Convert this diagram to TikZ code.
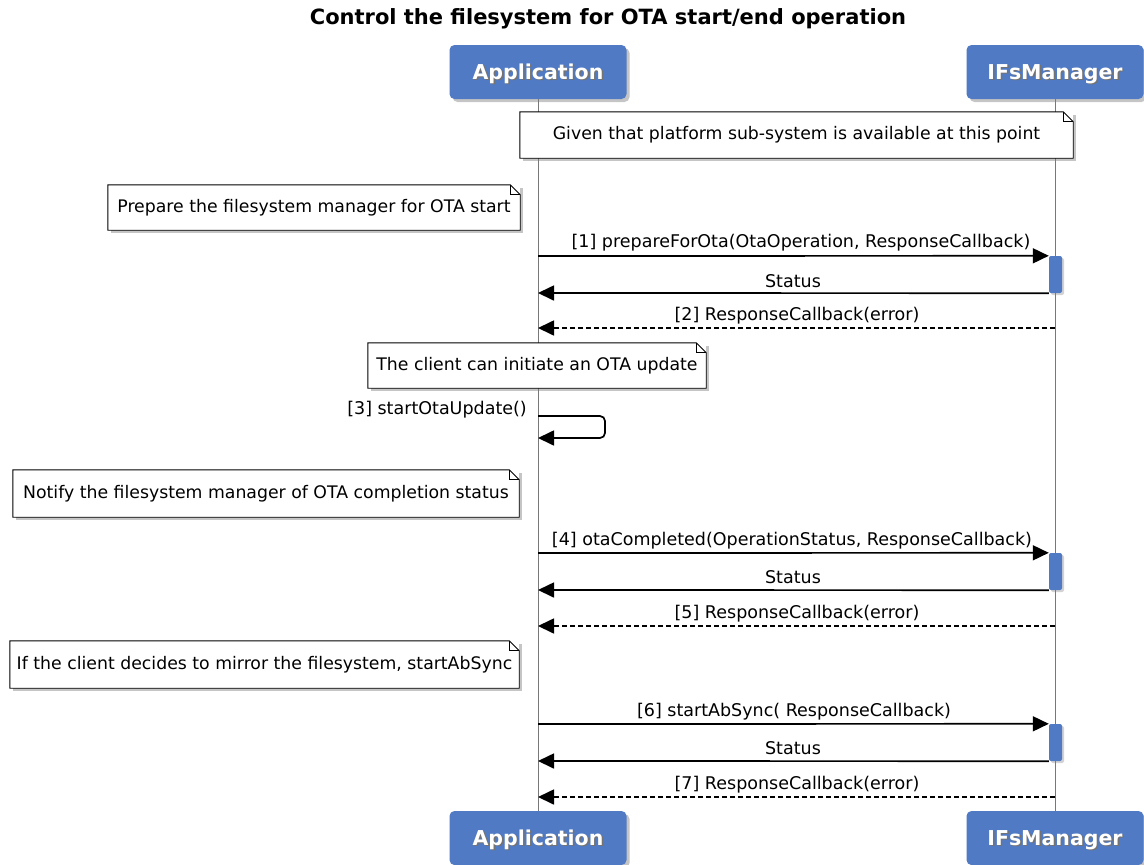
\documentclass[tikz,border=0pt]{standalone}
\usepackage{fontspec}
\setmainfont{DejaVu Sans}
\usetikzlibrary{arrows.meta,shadows}
\definecolor{hdrblue}{RGB}{80,122,196}
\definecolor{lifegray}{RGB}{120,120,120}
\newcommand{\hdrtext}[1]{\rlap{\hspace{1.5pt}\raisebox{-1.5pt}{\textcolor{black!55}{#1}}}\textcolor{white}{#1}}
\tikzset{
  titlestyle/.style={font=\fontsize{21}{24}\selectfont\bfseries, inner sep=0pt},
  hdr/.style={fill=hdrblue, rounded corners=5pt, minimum width=177pt, minimum height=54pt,
              inner sep=0pt, text height=14pt, text depth=0pt, font=\fontsize{20.5}{23}\selectfont\bfseries,
              drop shadow={shadow xshift=3pt, shadow yshift=-3pt, opacity=0.45}},
  lifeline/.style={draw=lifegray, line width=1pt},
  notebox/.style={fill=white, inner sep=0pt, font=\fontsize{17.3}{20}\selectfont,
              drop shadow={shadow xshift=3pt, shadow yshift=-3pt, opacity=0.45}},
  actbar/.style={fill=hdrblue, rounded corners=2pt, minimum width=13pt, minimum height=37pt, inner sep=0pt,
              drop shadow={shadow xshift=2pt, shadow yshift=-2pt, opacity=0.35}},
  msg/.style={line width=1.7pt, -{Triangle[length=16pt,width=15pt]}},
  retmsg/.style={msg, dash pattern=on 5pt off 3pt},
  lbl/.style={font=\fontsize{17.5}{20}\selectfont, inner sep=0pt},
}
\newcommand{\noteoutline}[1]{%
  \draw[line width=0.9pt] (#1.north west) -- ([xshift=-10pt]#1.north east) -- ([yshift=-10pt]#1.north east)
     -- (#1.south east) -- (#1.south west) -- cycle;
  \draw[line width=0.9pt] ([xshift=-10pt]#1.north east) -- ([xshift=-10pt,yshift=-10pt]#1.north east) -- ([yshift=-10pt]#1.north east);
}
\begin{document}
\begin{tikzpicture}[x=1pt,y=-1pt]
\useasboundingbox[fill=white] (0,0) rectangle (1144,865);

\node[titlestyle] (title) at (608,19) {Control the filesystem for OTA start/end operation};

% participants
\node[hdr] (appT) at (538,72) {\hdrtext{Application}};
\node[hdr] (ifsT) at (1055,72) {\hdrtext{IFsManager}};
\node[hdr] (appB) at (538,838) {\hdrtext{Application}};
\node[hdr] (ifsB) at (1055,838) {\hdrtext{IFsManager}};

% lifelines
\draw[lifeline] (appT.south) -- (appB.north);
\draw[lifeline] (ifsT.south) -- (ifsB.north);

% notes
\node[notebox, minimum width=553pt, minimum height=46pt] (n1) at (796.5,135) {Given that platform sub-system is available at this point};
\noteoutline{n1}
\node[notebox, minimum width=412pt, minimum height=45pt] (n2) at (314,207.5) {Prepare the filesystem manager for OTA start};
\noteoutline{n2}
\node[notebox, minimum width=338pt, minimum height=45pt] (n3) at (537,365.5) {The client can initiate an OTA update};
\noteoutline{n3}
\node[notebox, minimum width=506pt, minimum height=47pt] (n4) at (266,493.5) {Notify the filesystem manager of OTA completion status};
\noteoutline{n4}
\node[notebox, minimum width=509pt, minimum height=47pt] (n5) at (264.5,664.5) {If the client decides to mirror the filesystem, startAbSync};
\noteoutline{n5}

% activation bars
\node[actbar] (act1) at (1055.5,274.5) {};
\node[actbar] (act2) at (1055.5,571.5) {};
\node[actbar] (act3) at (1055.5,742.5) {};

% message anchor points on lifelines
\coordinate (a1) at (538,256);
\coordinate (a2) at (538,293);
\coordinate (a3) at (538,328);
\coordinate (i3) at (1055,328);
\coordinate (s1) at (538,416);
\coordinate (s2) at (538,438);
\coordinate (a4) at (538,553);
\coordinate (a5) at (538,590);
\coordinate (a6) at (538,626);
\coordinate (i6) at (1055,626);
\coordinate (a7) at (538,724);
\coordinate (a8) at (538,761);
\coordinate (a9) at (538,797);
\coordinate (i9) at (1055,797);

% messages
\draw[msg] (a1) -- (act1.north west);
\node[lbl] (l1) at (801,243) {[1] prepareForOta(OtaOperation, ResponseCallback)};
\draw[msg] (act1.south west) -- (a2);
\node[lbl] (l2) at (793,281) {Status};
\draw[retmsg] (i3) -- (a3);
\node[lbl] (l3) at (797,316) {[2] ResponseCallback(error)};

\draw[msg, rounded corners=5pt] (s1) -- ++(67,0) -- ++(0,22) -- (s2);
\node[lbl, anchor=east] (l4) at (527,410) {[3] startOtaUpdate()};

\draw[msg] (a4) -- (act2.north west);
\node[lbl] (l5) at (792,541) {[4] otaCompleted(OperationStatus, ResponseCallback)};
\draw[msg] (act2.south west) -- (a5);
\node[lbl] (l6) at (793,577) {Status};
\draw[retmsg] (i6) -- (a6);
\node[lbl] (l7) at (797,614) {[5] ResponseCallback(error)};

\draw[msg] (a7) -- (act3.north west);
\node[lbl] (l8) at (794,712) {[6] startAbSync( ResponseCallback)};
\draw[msg] (act3.south west) -- (a8);
\node[lbl] (l9) at (793,748) {Status};
\draw[retmsg] (i9) -- (a9);
\node[lbl] (l10) at (797,785) {[7] ResponseCallback(error)};
\end{tikzpicture}
\end{document}
